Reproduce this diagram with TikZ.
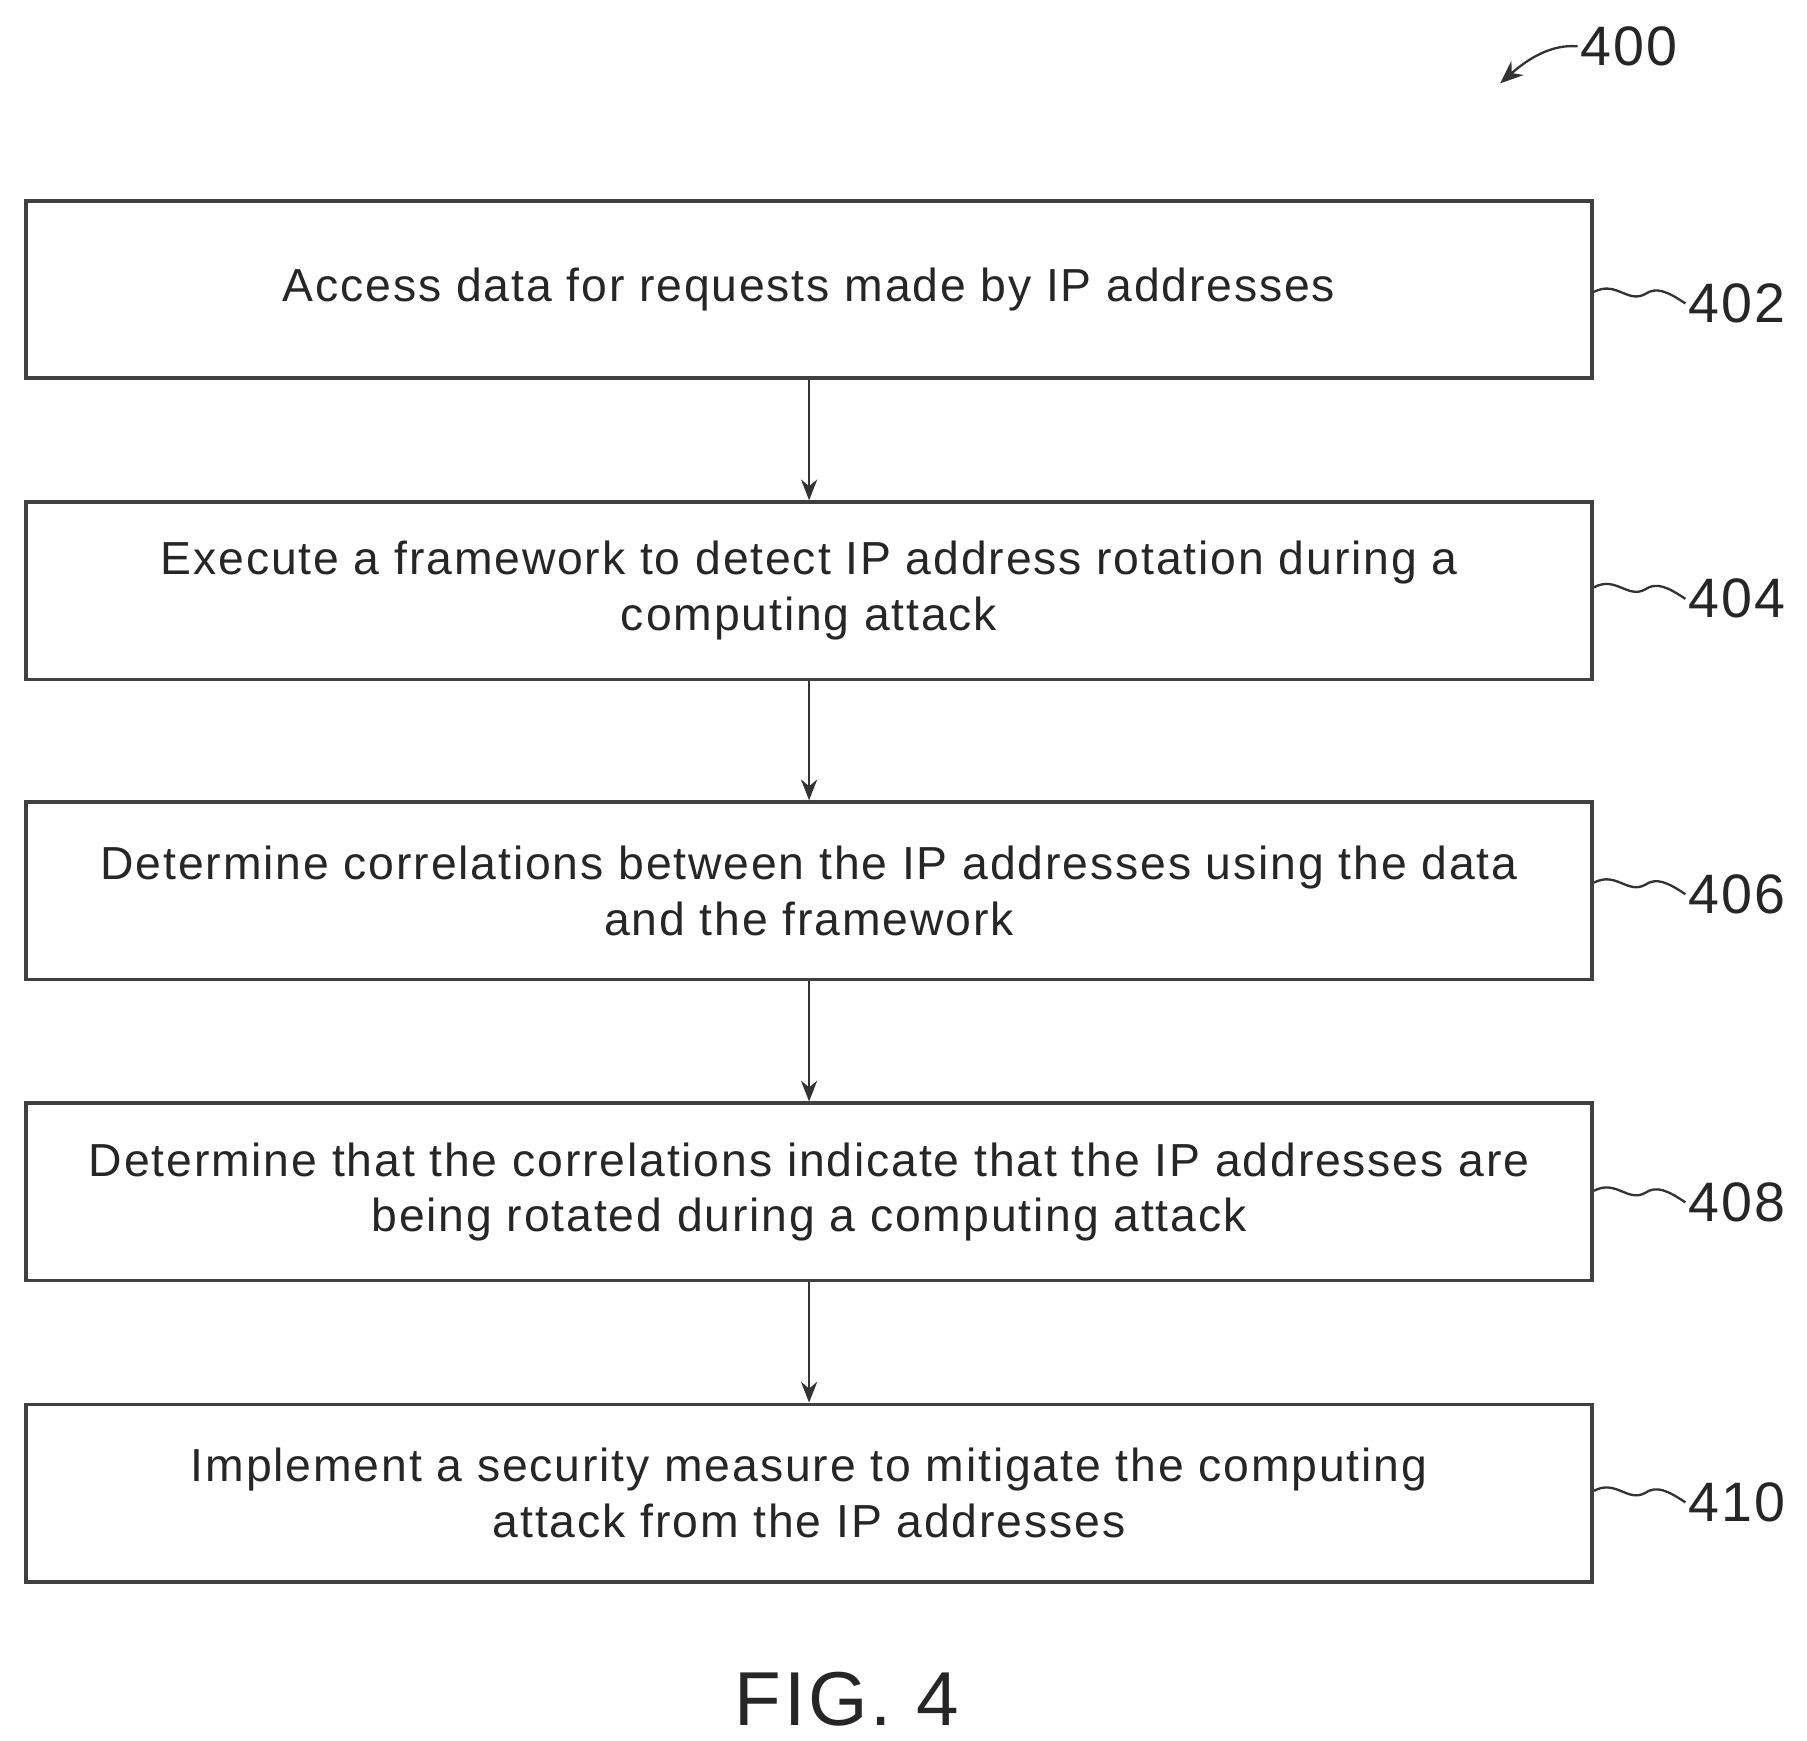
\documentclass[tikz,border=0pt]{standalone}
\usepackage{fontspec}
\setmainfont{Liberation Sans}[LetterSpace=4]
\usetikzlibrary{arrows.meta}
\begin{document}
\begin{tikzpicture}[x=0.5pt,y=-0.5pt,
  box/.style={draw=black!75,line width=1.6pt,minimum width=676pt,minimum height=76.5pt,align=center,font=\fontsize{20}{24}\selectfont,text=black!85,inner sep=0pt},
  arr/.style={-{Stealth[length=9pt,width=7pt]},line width=1pt,draw=black!80},
  lab/.style={font=\fontsize{24}{28}\selectfont,text=black!85},
  sq/.style={line width=1pt,draw=black!80}]
\useasboundingbox (0,0) rectangle (1560,1503);
\node[box] (b1) at (698.5,250) {Access data for requests made by IP addresses};
\node[box] (b2) at (698.5,510) {Execute a framework to detect IP address rotation during a\\computing attack};
\node[box] (b3) at (698.5,769) {Determine correlations between the IP addresses using the data\\and the framework};
\node[box] (b4) at (698.5,1029) {Determine that the correlations indicate that the IP addresses are\\being rotated during a computing attack};
\node[box] (b5) at (698.5,1289) {Implement a security measure to mitigate the computing\\attack from the IP addresses};
\foreach \a/\b in {b1/b2,b2/b3,b3/b4,b4/b5} \draw[arr] (\a.south) -- (\b.north);
\foreach \n/\t/\y in {b1/402/262,b2/404/517,b3/406/772,b4/408/1038,b5/410/1297}{
  \node[lab,anchor=west,inner sep=1pt] (l\t) at (1455,\y) {\t};
  \draw[sq] (\n.east |- 0,\y-10) .. controls (1395,\y-20) and (1405,\y) .. (1420,\y-8) .. controls (1430,\y-15) and (1440,\y-10) .. (l\t.west);
}
\node[lab,anchor=west,inner sep=1pt] (l400) at (1362,40) {400};
\coordinate (t400) at (1295,72);
\draw[arr,-{Stealth[length=10pt,width=8pt]}] (l400.west) .. controls (1340,38) and (1320,50) .. (t400);
\node[font=\fontsize{33}{36}\selectfont,text=black!85] (fig) at (731,1467) {FIG. 4};
\end{tikzpicture}
\end{document}
